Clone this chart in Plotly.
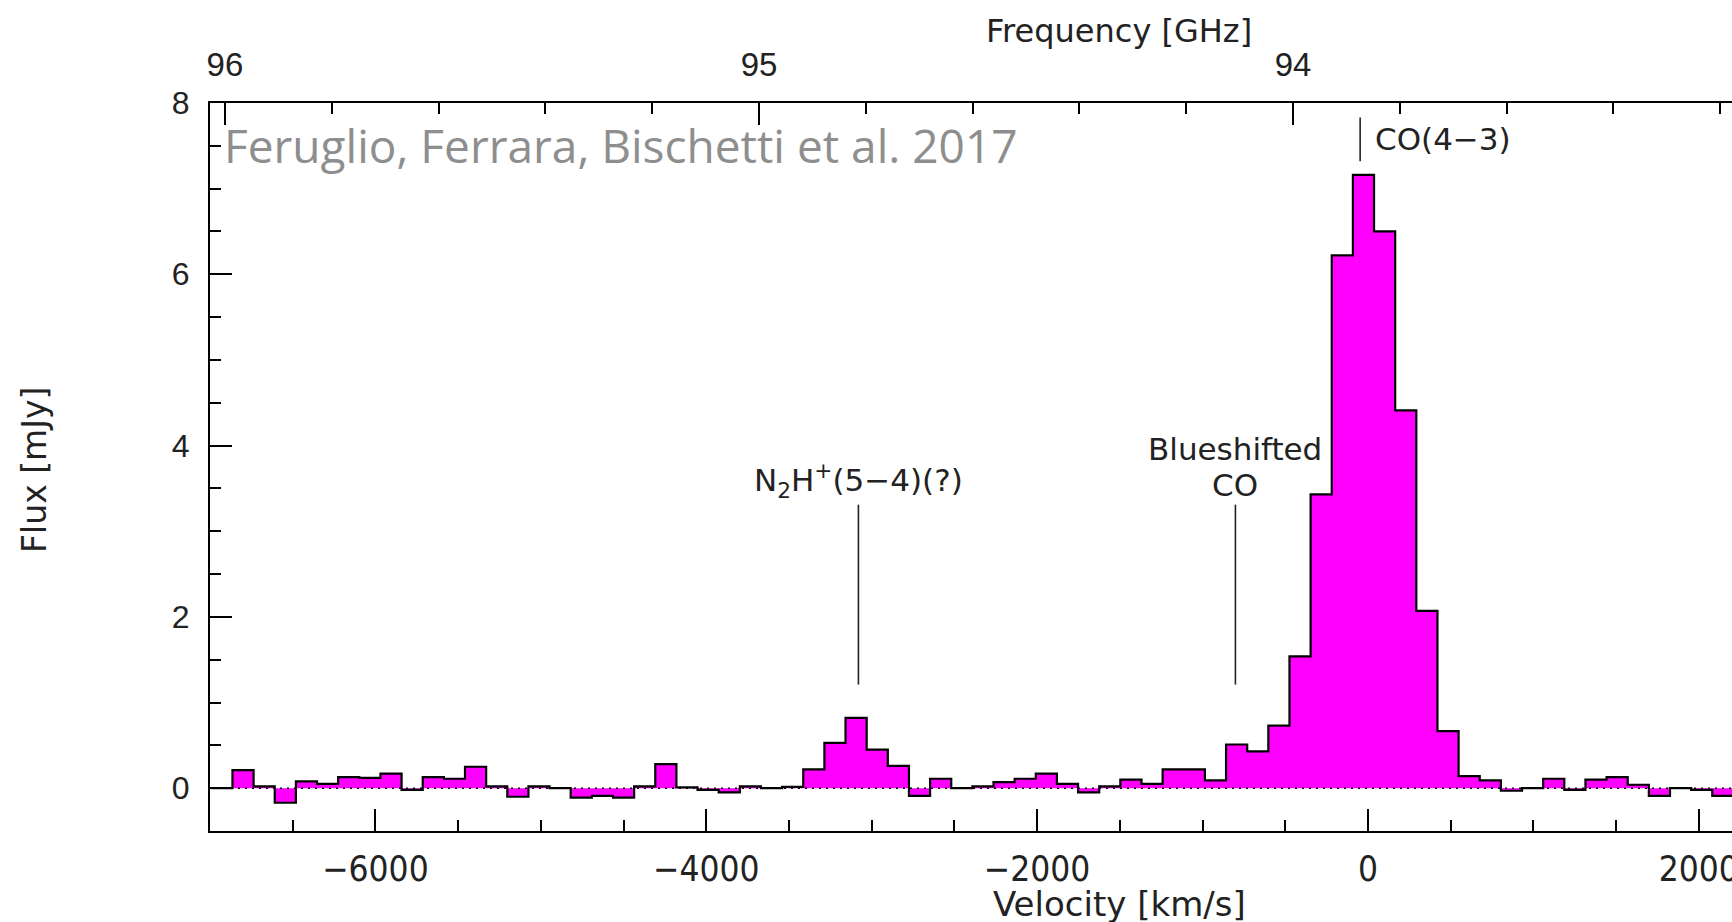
import plotly.graph_objects as go

# ---- spectrum: channel grid (km/s) and flux density per channel (mJy) ----
FIRST_EDGE_KMS = -6992.0
CHANNEL_KMS = 127.8
flux_mjy = [
    0.00, 0.21, 0.02, -0.17, 0.08, 0.05, 0.13, 0.12, 0.17, -0.02,
    0.13, 0.11, 0.25, 0.02, -0.10, 0.02, 0.00, -0.11, -0.09, -0.11,
    0.02, 0.28, 0.01, -0.02, -0.05, 0.02, 0.00, 0.015, 0.22, 0.53,
    0.82, 0.45, 0.26, -0.09, 0.11, 0.00, 0.02, 0.07, 0.11, 0.17,
    0.05, -0.05, 0.02, 0.10, 0.05, 0.22, 0.22, 0.09, 0.51, 0.43,
    0.73, 1.54, 3.43, 6.22, 7.16, 6.50, 4.41, 2.07, 0.665, 0.14,
    0.09, -0.03, 0.00, 0.11, -0.02, 0.10, 0.13, 0.04, -0.09, 0.00,
    -0.02, -0.09, -0.08,
]

# ---- axes ----
velocity_range = [-7000, 2201]
flux_range = [-0.5, 8]
freq_range = [96.028, 93.178]          # GHz, decreasing to the right
freq_ticks = [96, 95, 94]

# ---- line identifications: (label lines, velocity, y bottom, y top) ----
line_ids = [
    (["N<sub>2</sub>H<sup>+</sup>(5\u22124)(?)"], -3080, 1.21, 3.31),
    (["Blueshifted", "CO"], -801, 1.21, 3.31),
]
co_label = ("CO(4\u22123)", -47, 7.32, 7.83)
credit = "Feruglio, Ferrara, Bischetti et al. 2017"

edges = [FIRST_EDGE_KMS + i * CHANNEL_KMS for i in range(len(flux_mjy) + 1)]
step_x = edges
step_y = flux_mjy + [flux_mjy[-1]]

COND = "DejaVu Sans Condensed, Liberation Sans Narrow, Roboto Condensed, DejaVu Sans"
DEJAVU = "DejaVu Sans, Verdana, sans-serif"
ARIAL = "Liberation Sans, Arial, sans-serif"
INK = "#222"

fig = go.Figure()
fig.add_trace(go.Scatter(
    x=step_x, y=step_y, mode="lines", line_shape="hv",
    fill="tozeroy", fillcolor="#ff00ff",
    line=dict(color="black", width=2.2),
    showlegend=False, hoverinfo="skip",
))
# carrier for the frequency axis on top
fig.add_trace(go.Scatter(
    x=freq_range, y=[0, 0], xaxis="x2", mode="markers",
    marker=dict(opacity=0), showlegend=False, hoverinfo="skip",
))

# dotted zero level
fig.add_shape(type="line", xref="x", yref="y", x0=velocity_range[0], x1=velocity_range[1],
              y0=0, y1=0, line=dict(color="black", width=1.6, dash="2px,5px"), layer="above")

annotations = []
LINE_GAP = 36
for lines, v, y0, y1 in line_ids:
    fig.add_shape(type="line", xref="x", yref="y", x0=v, x1=v, y0=y0, y1=y1,
                  line=dict(color=INK, width=1.6))
    for k, text in enumerate(reversed(lines)):
        annotations.append(dict(x=v, y=y1, xref="x", yref="y", text=text,
                                showarrow=False, xanchor="center", yanchor="bottom",
                                yshift=0 + k * LINE_GAP,
                                font=dict(family=DEJAVU, size=31, color=INK)))

text, v, y0, y1 = co_label
fig.add_shape(type="line", xref="x", yref="y", x0=v, x1=v, y0=y0, y1=y1,
              line=dict(color=INK, width=1.6))
annotations.append(dict(x=v, y=(y0 + y1) / 2, xref="x", yref="y", text=text,
                        showarrow=False, xanchor="left", yanchor="middle", xshift=13,
                        font=dict(family=DEJAVU, size=31, color=INK)))

annotations.append(dict(x=0, y=1, xref="paper", yref="paper", text=credit, showarrow=False,
                        xanchor="left", yanchor="top", xshift=12, yshift=-9,
                        font=dict(family="Open Sans, Lato, sans-serif", size=46, color="#8e8e8e")))
annotations.append(dict(x=-1503, y=1.099, xref="x", yref="paper", text="Frequency [GHz]",
                        showarrow=False, xanchor="center", yanchor="middle",
                        font=dict(family=DEJAVU, size=32, color=INK)))
annotations.append(dict(x=-1503, y=-0.100, xref="x", yref="paper", text="Velocity [km/s]",
                        showarrow=False, xanchor="center", yanchor="middle",
                        font=dict(family=DEJAVU, size=34, color=INK)))
annotations.append(dict(x=-0.115, y=0.496, xref="paper", yref="paper", text="Flux [mJy]",
                        showarrow=False, xanchor="center", yanchor="middle", textangle=-90,
                        font=dict(family=DEJAVU, size=33, color=INK)))

tick_common = dict(ticks="inside", ticklen=22, tickwidth=2, tickcolor="black",
                   showline=True, linewidth=2.2, linecolor="black",
                   showgrid=False, zeroline=False, automargin=False)

fig.update_layout(
    width=1732, height=922, autosize=False,
    margin=dict(l=210, r=0, t=103, b=91, autoexpand=False),
    paper_bgcolor="white", plot_bgcolor="white",
    annotations=annotations,
    xaxis=dict(range=velocity_range, tickmode="linear", tick0=0, dtick=2000,
               minor=dict(ticks="inside", ticklen=11, tickwidth=2, tickcolor="black",
                          tick0=0, dtick=500, showgrid=False),
               tickfont=dict(family=COND, size=35, color=INK),
               ticklabeloverflow="allow",
               ticklabelstandoff=6, **tick_common),
    xaxis2=dict(range=freq_range, overlaying="x", side="top", anchor="y",
                tickmode="array", tickvals=freq_ticks, ticktext=[str(t) for t in freq_ticks],
                minor=dict(ticks="inside", ticklen=11, tickwidth=2, tickcolor="black",
                           tick0=96, dtick=0.2, showgrid=False),
                tickfont=dict(family=ARIAL, size=33, color=INK),
                ticklabelstandoff=12, **tick_common),
    yaxis=dict(range=flux_range, tickmode="linear", tick0=0, dtick=2,
               minor=dict(ticks="inside", ticklen=11, tickwidth=2, tickcolor="black",
                          tick0=0, dtick=0.5, showgrid=False),
               tickfont=dict(family=ARIAL, size=32, color=INK),
               ticklabelstandoff=12, **tick_common),
)

# keep the page exactly one figure wide: anything past the right edge is clipped
clip_js = """
document.documentElement.style.overflow = 'hidden';
document.body.style.overflow = 'hidden';
document.body.style.margin = '0';
var gd = document.getElementById('{plot_id}');
gd.style.overflow = 'hidden';
gd.style.width = '1732px';
gd.style.height = '922px';
"""

fig.write_html("out.html", post_script=clip_js)
